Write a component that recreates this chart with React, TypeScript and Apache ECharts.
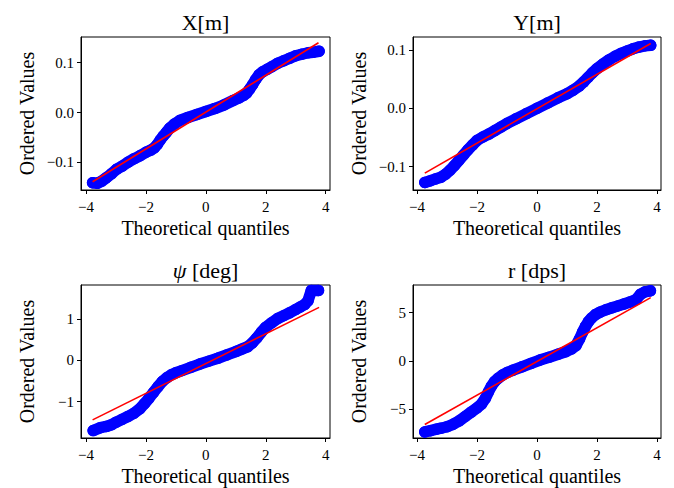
import React, { useEffect, useRef } from "react";
import * as echarts from "echarts";

// Theoretical quantiles (x) and ordered sample values (y) for each channel
const xmQuantiles = [-3.78, -3.62, -3.48, -3.32, -3.15, -2.98, -2.8, -2.6, -2.4, -2.2, -2.0, -1.85, -1.72, -1.62, -1.52, -1.42, -1.32, -1.2, -1.05, -0.87, -0.6, -0.3, 0, 0.3, 0.6, 0.91, 1.1, 1.25, 1.36, 1.46, 1.56, 1.66, 1.78, 1.9, 2.05, 2.2, 2.4, 2.6, 2.8, 3.0, 3.2, 3.42, 3.58, 3.78];
const xmValues = [-0.141, -0.142, -0.138, -0.131, -0.123, -0.114, -0.108, -0.1, -0.093, -0.087, -0.08, -0.076, -0.071, -0.064, -0.055, -0.047, -0.04, -0.031, -0.023, -0.016, -0.01, -0.004, 0.002, 0.008, 0.015, 0.024, 0.029, 0.034, 0.039, 0.047, 0.056, 0.066, 0.076, 0.082, 0.087, 0.092, 0.099, 0.104, 0.109, 0.114, 0.117, 0.12, 0.121, 0.123];
const xmFit = [[-3.78, -0.139], [3.76, 0.14]];

const ymQuantiles = [-3.74, -3.55, -3.38, -3.2, -3.05, -2.9, -2.75, -2.6, -2.45, -2.3, -2.15, -2.0, -1.8, -1.6, -1.4, -1.2, -1.0, -0.7, -0.35, 0, 0.35, 0.7, 1.0, 1.2, 1.4, 1.55, 1.7, 1.85, 2.0, 2.2, 2.4, 2.6, 2.8, 3.0, 3.2, 3.4, 3.6, 3.79];
const ymValues = [-0.127, -0.124, -0.121, -0.118, -0.113, -0.106, -0.098, -0.089, -0.08, -0.071, -0.063, -0.055, -0.049, -0.044, -0.038, -0.032, -0.026, -0.018, -0.009, 0.0, 0.009, 0.018, 0.025, 0.031, 0.038, 0.045, 0.053, 0.061, 0.068, 0.076, 0.083, 0.089, 0.094, 0.098, 0.102, 0.105, 0.107, 0.108];
const ymFit = [[-3.74, -0.111], [3.79, 0.111]];

const psiQuantiles = [-3.76, -3.52, -3.32, -3.15, -3.0, -2.8, -2.6, -2.4, -2.2, -2.05, -1.9, -1.75, -1.6, -1.45, -1.3, -1.15, -1.0, -0.8, -0.5, -0.2, 0.1, 0.4, 0.7, 1.0, 1.2, 1.4, 1.55, 1.7, 1.85, 2.0, 2.2, 2.4, 2.6, 2.8, 3.0, 3.15, 3.3, 3.41, 3.52, 3.76];
const psiValues = [-1.7, -1.63, -1.6, -1.56, -1.5, -1.43, -1.36, -1.28, -1.17, -1.05, -0.92, -0.78, -0.64, -0.51, -0.42, -0.35, -0.3, -0.25, -0.17, -0.09, -0.02, 0.05, 0.13, 0.21, 0.27, 0.33, 0.42, 0.54, 0.68, 0.8, 0.91, 1.01, 1.08, 1.15, 1.23, 1.29, 1.35, 1.44, 1.69, 1.69];
const psiFit = [[-3.78, -1.44], [3.78, 1.28]];

const rQuantiles = [-3.74, -3.55, -3.35, -3.2, -3.0, -2.8, -2.6, -2.4, -2.2, -2.0, -1.85, -1.72, -1.62, -1.52, -1.42, -1.3, -1.15, -1.0, -0.8, -0.5, -0.2, 0.1, 0.4, 0.7, 0.95, 1.15, 1.3, 1.42, 1.52, 1.62, 1.72, 1.82, 1.95, 2.1, 2.3, 2.5, 2.7, 2.9, 3.1, 3.3, 3.45, 3.6, 3.78];
const rValues = [-7.33, -7.2, -7.05, -6.95, -6.8, -6.55, -6.2, -5.75, -5.3, -4.85, -4.45, -3.85, -3.2, -2.6, -2.15, -1.8, -1.45, -1.2, -0.95, -0.6, -0.25, 0.1, 0.38, 0.7, 0.95, 1.25, 1.6, 2.3, 3.0, 3.6, 4.1, 4.45, 4.8, 5.05, 5.3, 5.5, 5.7, 5.9, 6.1, 6.35, 6.9, 7.15, 7.26];
const rFit = [[-3.74, -6.56], [3.79, 6.56]];

// Tick positions
const quantileTicks = [-4, -2, 0, 2, 4];
const xmTicks = [-0.1, 0, 0.1];
const ymTicks = [-0.1, 0, 0.1];
const psiTicks = [-1, 0, 1];
const rTicks = [-5, 0, 5];

const FONT = '"Liberation Serif", "Times New Roman", serif';
const MARKER = 11.5;

type Panel = {
  title: string;
  rich?: boolean;
  q: number[];
  v: number[];
  fit: number[][];
  yTicks: number[];
  yDigits: number;
  grid: { left: number; top: number; width: number; height: number };
  xRange: [number, number];
  yRange: [number, number];
};

const panels: Panel[] = [
  { title: "X[m]", q: xmQuantiles, v: xmValues, fit: xmFit, yTicks: xmTicks, yDigits: 1,
    grid: { left: 81, top: 37, width: 249, height: 153 }, xRange: [-4.167, 4.144], yRange: [-0.1556, 0.1516] },
  { title: "Y[m]", q: ymQuantiles, v: ymValues, fit: ymFit, yTicks: ymTicks, yDigits: 1,
    grid: { left: 413, top: 37, width: 248, height: 153 }, xRange: [-4.133, 4.133], yRange: [-0.140, 0.1222] },
  { title: "{i|ψ} [deg]", rich: true, q: psiQuantiles, v: psiValues, fit: psiFit, yTicks: psiTicks, yDigits: 0,
    grid: { left: 81, top: 285, width: 249, height: 153 }, xRange: [-4.167, 4.144], yRange: [-1.879, 1.821] },
  { title: "r [dps]", q: rQuantiles, v: rValues, fit: rFit, yTicks: rTicks, yDigits: 0,
    grid: { left: 413, top: 285, width: 248, height: 153 }, xRange: [-4.133, 4.133], yRange: [-7.96, 7.86] },
];

const fmt = (v: number, digits: number) => {
  const s = Math.abs(v).toFixed(digits);
  return v < -1e-9 ? "\u2212" + s : s;
};

export default function App() {
  const ref = useRef<HTMLDivElement>(null);

  useEffect(() => {
    if (!ref.current) return;
    const chart = echarts.init(ref.current, undefined, { renderer: "svg" });

    const axisCommon = {
      type: "value" as const,
      splitLine: { show: false },
      axisLine: { show: true, onZero: false, lineStyle: { color: "#000", width: 1 } },
    };

    const xAxis = panels.map((p, i) => ({
      ...axisCommon,
      gridIndex: i,
      min: p.xRange[0],
      max: p.xRange[1],
      axisTick: { show: true, inside: false, length: 4, lineStyle: { color: "#000", width: 1 }, customValues: quantileTicks },
      axisLabel: {
        customValues: quantileTicks,
        formatter: (v: number) => fmt(v, 0),
        color: "#000",
        fontFamily: FONT,
        fontSize: 15,
        margin: 9,
      },
      name: "Theoretical quantiles",
      nameLocation: "middle",
      nameGap: 28,
      nameTextStyle: { color: "#000", fontFamily: FONT, fontSize: 20 },
    }));

    const yAxis = panels.map((p, i) => ({
      ...axisCommon,
      gridIndex: i,
      min: p.yRange[0],
      max: p.yRange[1],
      axisTick: { show: true, inside: false, length: 4, lineStyle: { color: "#000", width: 1 }, customValues: p.yTicks },
      axisLabel: {
        customValues: p.yTicks,
        formatter: (v: number) => fmt(v, p.yDigits),
        color: "#000",
        fontFamily: FONT,
        fontSize: 15,
        margin: 7,
      },
      name: "Ordered Values",
      nameLocation: "middle",
      nameGap: 44,
      nameTextStyle: { color: "#000", fontFamily: FONT, fontSize: 20 },
    }));

    const grid = panels.map((p) => ({
      ...p.grid,
      show: true,
      borderColor: "#000",
      borderWidth: 1,
      backgroundColor: "#fff",
      containLabel: false,
      outerBoundsMode: "none",
    }));

    const series: any[] = [];
    panels.forEach((p, i) => {
      // sample points, joined so the dense middle reads as a solid band
      series.push({
        type: "line",
        xAxisIndex: i,
        yAxisIndex: i,
        data: p.q.map((q, k) => [q, p.v[k]]),
        symbol: "circle",
        symbolSize: MARKER,
        showSymbol: true,
        showAllSymbol: true,
        itemStyle: { color: "#0000ff" },
        lineStyle: { color: "#0000ff", width: MARKER, cap: "round", join: "round" },
        emphasis: { disabled: true },
        z: 2,
      });
      // least-squares reference line
      series.push({
        type: "line",
        xAxisIndex: i,
        yAxisIndex: i,
        data: p.fit,
        symbol: "none",
        lineStyle: { color: "#ff0000", width: 1.6 },
        emphasis: { disabled: true },
        z: 3,
      });
    });

    const graphic = panels.map((p) => ({
      type: "text",
      x: p.grid.left + p.grid.width / 2,
      y: p.grid.top - 15,
      style: {
        text: p.title,
        fill: "#000",
        fontFamily: FONT,
        fontSize: 22,
        align: "center",
        verticalAlign: "middle",
        rich: p.rich
          ? { i: { fontStyle: "italic", fontFamily: FONT, fontSize: 22, fill: "#000" } }
          : undefined,
      },
    }));

    chart.setOption({
      animation: false,
      backgroundColor: "#fff",
      grid,
      xAxis,
      yAxis,
      series,
      graphic,
    });

    return () => chart.dispose();
  }, []);

  return (
    <div
      ref={ref}
      style={{ position: "fixed", left: 0, top: 0, width: 674, height: 488, background: "#fff" }}
    />
  );
}
